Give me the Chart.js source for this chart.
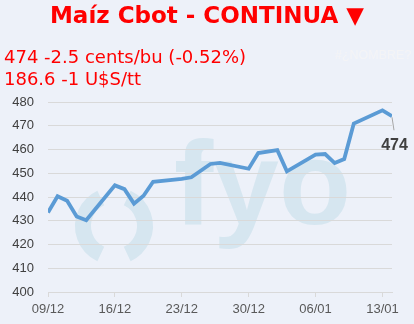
<!DOCTYPE html>
<html>
<head>
<meta charset="utf-8">
<script src="https://cdn.jsdelivr.net/npm/chart.js@4"></script>
<style>
  html, body { margin: 0; padding: 0; }
  body { width: 414px; height: 324px; background: #edf1f9; position: relative; overflow: hidden; }
  .txt { position: absolute; white-space: nowrap; color: #ff0000; font-family: "DejaVu Sans", sans-serif; line-height: 1; }
  #title { left: 0; width: 414px; text-align: center; top: 4px; font-size: 23px; font-weight: bold; }
  .sub { left: 4px; font-size: 18px; }
  #err { left: 335px; top: 49px; font-family: "Liberation Sans", sans-serif; font-size: 12.5px; color: #f4f4f6; }
  #chart { position: absolute; left: 0; top: 0; }
</style>
</head>
<body>
<canvas id="chart" width="414" height="324"></canvas>
<div class="txt" id="title">Maíz Cbot - CONTINUA ▼</div>
<div class="txt sub" style="top:48px">474 -2.5 cents/bu (-0.52%)</div>
<div class="txt sub" style="top:70px">186.6 -1 U$S/tt</div>
<div class="txt" id="err">#¿NOMBRE?</div>
<script>
// days counted from 09/12 (weekends and holidays have no quote)
const days = [0, 1, 2, 3, 4, 7, 8, 9, 10, 11, 14, 15, 17, 18, 21, 22, 24, 25, 28, 29, 30, 31, 32, 35, 36];
const prices = [433.5, 440.3, 438.4, 431.8, 430.2, 444.9, 443.3, 437.2, 440.5, 446.4, 447.6, 448.3, 453.9, 454.4, 451.9, 458.5, 459.7, 450.8, 457.8, 458.1, 454.3, 456.0, 470.9, 476.5, 474];
const tickDays = [0, 7, 14, 21, 28, 35];
const tickLabels = ['09/12', '16/12', '23/12', '30/12', '06/01', '13/01'];
const lastLabel = '474';

const points = days.map((d, i) => ({ x: d, y: prices[i] }));

// fyo watermark behind the grid
const watermark = {
    id: 'watermark',
    beforeDraw(chart) {
        const ctx = chart.ctx;
        ctx.save();
        ctx.strokeStyle = '#d6e6f0';
        ctx.fillStyle = '#d6e6f0';
        ctx.lineWidth = 16;
        ctx.beginPath();
        ctx.arc(114, 226, 31, Math.PI * 0.64, Math.PI * 1.36);
        ctx.stroke();
        ctx.beginPath();
        ctx.arc(114, 226, 31, -Math.PI * 0.36, Math.PI * 0.36);
        ctx.stroke();
        ctx.font = 'bold 118px "Liberation Sans"';
        ctx.textBaseline = 'alphabetic';
        ctx.fillText('fyo', 174, 224);
        ctx.restore();
    }
};

// label for last value with leader line
const lastValue = {
    id: 'lastValue',
    afterDatasetsDraw(chart) {
        const ctx = chart.ctx;
        const xs = chart.scales.x, ys = chart.scales.y;
        const px = xs.getPixelForValue(days[days.length - 1]);
        const py = ys.getPixelForValue(prices[prices.length - 1]);
        ctx.save();
        ctx.strokeStyle = '#a6a6a6';
        ctx.lineWidth = 1;
        ctx.beginPath();
        ctx.moveTo(px, py + 1);
        ctx.lineTo(px + 2, py + 14);
        ctx.stroke();
        ctx.fillStyle = '#404040';
        ctx.font = 'bold 16px "Liberation Sans"';
        ctx.textAlign = 'center';
        ctx.textBaseline = 'middle';
        ctx.fillText(lastLabel, px + 2.5, py + 29);
        ctx.restore();
    }
};

new Chart(document.getElementById('chart'), {
    type: 'line',
    data: {
        datasets: [{
            data: points,
            borderColor: '#5b9bd5',
            borderWidth: 3.8,
            pointRadius: 0,
            tension: 0,
            fill: false
        }]
    },
    options: {
        responsive: false,
        animation: false,
        layout: { padding: { top: 102, right: 22, left: 0, bottom: 0 } },
        plugins: { legend: { display: false }, tooltip: { enabled: false } },
        scales: {
            x: {
                type: 'linear',
                min: 0,
                max: 36,
                afterFit: (s) => { s.height = 32; },
                afterBuildTicks: (s) => { s.ticks = tickDays.map(v => ({ value: v })); },
                grid: { drawOnChartArea: false, color: '#d9d9d9', tickLength: 5 },
                border: { color: '#d9d9d9' },
                ticks: {
                    padding: 5,
                    color: '#595959',
                    font: { family: 'Liberation Sans', size: 13 },
                    maxRotation: 0,
                    callback: (v) => tickLabels[tickDays.indexOf(v)]
                }
            },
            y: {
                min: 400,
                max: 480,
                afterFit: (s) => { s.width = 48; },
                grid: { color: '#d9d9d9', drawTicks: false },
                border: { display: false },
                ticks: {
                    stepSize: 10,
                    padding: 14,
                    color: '#404040',
                    font: { family: 'Liberation Sans', size: 13 }
                }
            }
        }
    },
    plugins: [watermark, lastValue]
});
</script>
</body>
</html>
